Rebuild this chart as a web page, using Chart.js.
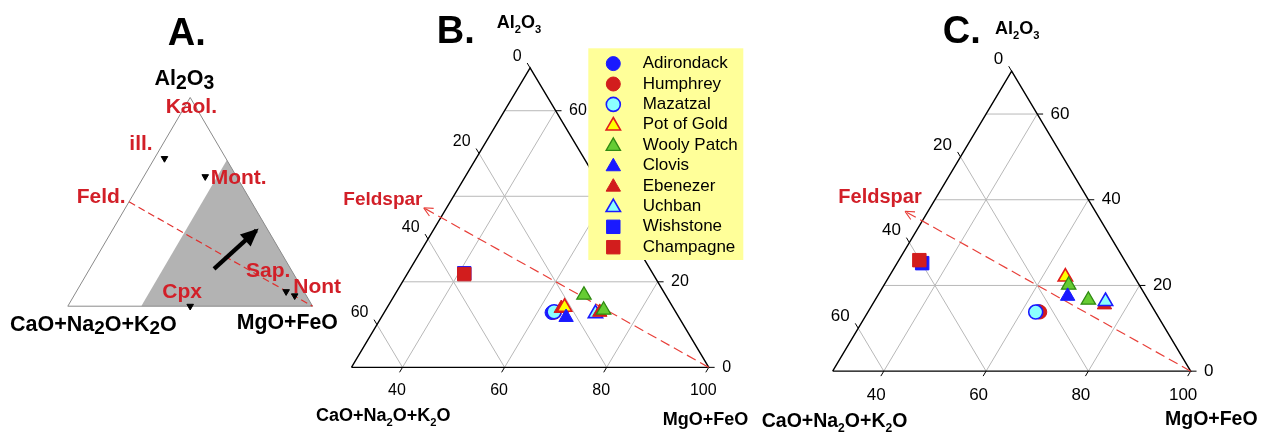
<!DOCTYPE html>
<html><head><meta charset="utf-8">
<script src="https://cdn.jsdelivr.net/npm/chart.js@4.4.1/dist/chart.umd.min.js"></script>
<style>
html,body{margin:0;padding:0;background:#fff;width:1269px;height:434px;overflow:hidden;}
canvas{position:absolute;left:0;top:0;}
</style></head><body>
<canvas id="cA" width="1269" height="434"></canvas>
<canvas id="cB" width="1269" height="434"></canvas>
<canvas id="cC" width="1269" height="434"></canvas>
<script>
// ================= DATA =================
const seriesNames = ['Adirondack','Humphrey','Mazatzal','Pot of Gold','Wooly Patch','Clovis','Ebenezer','Uchban','Wishstone','Champagne'];
// pairs: [Al2O3, MgO+FeO]  (CaO+Na2O+K2O = 100 - both)
// Panel B
const adirondackB = [[12.8, 62.9]];
const humphreyB   = [[12.9, 63.3]];
const mazatzalB   = [[13.0, 63.2]];
const potOfGoldB  = [[14.1, 64.7]];
const woolyPatchB = [[16.9, 67.1], [13.4, 72.7]];
const clovisB     = [[11.7, 66.2]];
const ebenezerB   = [[13.8, 64.2], [12.9, 72.2]];
const uchbanB     = [[12.6, 71.5]];
const wishstoneB  = [[22.0, 41.1]];
const champagneB  = [[21.8, 41.2]];
// Panel C
const adirondackC = [[13.9, 63.3]];
const humphreyC   = [[13.8, 63.6]];
const mazatzalC   = [[13.8, 62.8]];
const potOfGoldC  = [[22.0, 64.5]];
const woolyPatchC = [[20.1, 66.1], [16.6, 71.7]];
const clovisC     = [[17.5, 67.2]];
const ebenezerC   = [[15.5, 75.4]];
const uchbanC     = [[16.3, 75.2]];
const wishstoneC  = [[25.2, 34.9]];
const champagneC  = [[25.9, 34.0]];
// Panel A minerals (markers)
const mineralAl2O3  = [70.8, 62.1, 0.0, 7.0, 5.0];
const mineralMgOFeO = [4.1, 25.1, 50.0, 85.7, 90.2];
// Panel A arrow (start, end)
const arrowAl2O3  = [17.9, 36.3];
const arrowMgOFeO = [50.8, 58.9];
// Feldspar composition and arrow tip in B/C
const feldspar = [50, 0];
const feldsparTip = [37.3, 25.5];
// field shown in B/C (MgO+FeO >= 30)
const fieldMinMgOFeO = 30;
// tick labels
const al2o3Ticks  = [0, 20, 40, 60];
const mgofeoTicks = [40, 60, 80, 100];
const cnkTicks    = [0, 20, 40, 60];

// ================= HELPERS =================
const SQ = Math.sqrt(3) / 2;
const tern = (al, mf) => ({ x: mf + al / 2, y: al * SQ });
const FAM = '"Liberation Sans", Arial, sans-serif';
const BLUE = '#1a1aff', RED = '#d21d1d', CYAN = '#8cffff', YEL = '#ffff00', GRN = '#66cc33', DGRN = '#2f8a12';
const TXTRED = '#d21f28';

const seriesStyle = [
  {shape:'circle', fill:BLUE, stroke:BLUE, lw:1},
  {shape:'circle', fill:RED, stroke:RED, lw:1},
  {shape:'circle', fill:CYAN, stroke:BLUE, lw:1.6},
  {shape:'triangle', fill:YEL, stroke:'#e01b1b', lw:1.6},
  {shape:'triangle', fill:GRN, stroke:DGRN, lw:1.3},
  {shape:'triangle', fill:BLUE, stroke:BLUE, lw:1},
  {shape:'triangle', fill:RED, stroke:RED, lw:1},
  {shape:'triangle', fill:CYAN, stroke:BLUE, lw:1.6},
  {shape:'rect', fill:BLUE, stroke:BLUE, lw:1},
  {shape:'rect', fill:RED, stroke:RED, lw:1}
];
const markerR = {circle: 7, triangle: 8.3, rect: 9.5};

function scalesFor(p) {
  const xmin = p.x0 - p.px0 / p.k;
  return {
    x: {type:'linear', display:false, min:xmin, max:xmin + 1269 / p.k},
    y: {type:'linear', display:false, min:-(434 - p.base) / p.k, max:p.base / p.k}
  };
}
function seg(points, color, width, order, dash, extra) {
  return Object.assign({data:points, showLine:true, borderColor:color, borderWidth:width,
    pointRadius:0, pointHoverRadius:0, fill:false, order:order, borderDash:dash || [], tension:0}, extra || {});
}
function txt(ctx, s, x, y, fs, opt) {
  opt = opt || {};
  ctx.font = (opt.bold ? 'bold ' : '') + fs + 'px ' + FAM;
  ctx.fillStyle = opt.color || '#000';
  ctx.textAlign = opt.align || 'left';
  ctx.textBaseline = opt.baseline || 'alphabetic';
  ctx.fillText(s, x, y);
}
function rich(ctx, parts, x, y, fs, opt) {
  opt = opt || {};
  const w = opt.bold === false ? '' : 'bold ';
  const sc = opt.subScale || 0.62, sh = opt.subShift || 0.28;
  let total = 0;
  const ws = parts.map(([t, s]) => { ctx.font = w + (s ? fs * sc : fs) + 'px ' + FAM; const m = ctx.measureText(t).width; total += m; return m; });
  let cx = opt.align === 'right' ? x - total : opt.align === 'center' ? x - total / 2 : x;
  ctx.fillStyle = opt.color || '#000'; ctx.textAlign = 'left'; ctx.textBaseline = 'alphabetic';
  parts.forEach(([t, s], i) => { ctx.font = w + (s ? fs * sc : fs) + 'px ' + FAM; ctx.fillText(t, cx, s ? y + fs * sh : y); cx += ws[i]; });
}
const AL2O3 = [['Al',0],['2',1],['O',0],['3',1]];
const CNK = [['CaO+Na',0],['2',1],['O+K',0],['2',1],['O',0]];

function drawMarker(ctx, st, x, y) {
  const r = markerR[st.shape];
  ctx.beginPath();
  if (st.shape === 'circle') ctx.arc(x, y, r, 0, Math.PI * 2);
  else if (st.shape === 'rect') { const s = r * Math.SQRT1_2; ctx.rect(x - s, y - s, 2 * s, 2 * s); }
  else { ctx.moveTo(x, y - r); ctx.lineTo(x + r * SQ, y + r / 2); ctx.lineTo(x - r * SQ, y + r / 2); ctx.closePath(); }
  ctx.fillStyle = st.fill; ctx.fill();
  ctx.lineWidth = st.lw; ctx.strokeStyle = st.stroke; ctx.stroke();
}

const baseOpts = (p) => ({
  responsive:false, animation:false, events:[],
  layout:{padding:0},
  plugins:{legend:{display:false}, tooltip:{enabled:false}},
  scales: scalesFor(p)
});

// ================= PANEL A =================
const pA = {k:2.467, px0:63.3, x0:0, base:308.3};
const dsA = [
  seg([tern(0, fieldMinMgOFeO), tern(100 - fieldMinMgOFeO, fieldMinMgOFeO), tern(0, 100)], 'rgba(0,0,0,0)', 0, 20,
      null, {fill:'origin', backgroundColor:'#b3b3b3'}),
  seg([tern(0,0), tern(0,100), tern(100,0), tern(0,0)], '#8a8a8a', 1, 19),
  seg([tern(feldspar[0], feldspar[1]), tern(0,100)], '#e0312f', 1.2, 18, [7,4]),
  seg([tern(arrowAl2O3[0], arrowMgOFeO[0]), tern(arrowAl2O3[1], arrowMgOFeO[1])], '#000', 4.2, 17),
  {data: mineralAl2O3.map((a, i) => tern(a, mineralMgOFeO[i])), showLine:false, pointStyle:'triangle',
   pointRotation:180, pointRadius:3.8, pointBackgroundColor:'#000', pointBorderColor:'#000', pointBorderWidth:1, order:16}
];
const plugA = {
  id:'labelsA',
  afterDatasetsDraw(chart) {
    const ctx = chart.ctx, xs = chart.scales.x, ys = chart.scales.y;
    const P = (al, mf) => { const t = tern(al, mf); return [xs.getPixelForValue(t.x), ys.getPixelForValue(t.y)]; };
    ctx.save();
    const s = P(arrowAl2O3[0], arrowMgOFeO[0]), e = P(arrowAl2O3[1], arrowMgOFeO[1]);
    const ang = Math.atan2(e[1] - s[1], e[0] - s[0]);
    const hl = 15, hw = 8;
    ctx.beginPath();
    ctx.moveTo(e[0] + 3 * Math.cos(ang), e[1] + 3 * Math.sin(ang));
    ctx.lineTo(e[0] - hl * Math.cos(ang) - hw * Math.sin(ang), e[1] - hl * Math.sin(ang) + hw * Math.cos(ang));
    ctx.lineTo(e[0] - hl * Math.cos(ang) + hw * Math.sin(ang), e[1] - hl * Math.sin(ang) - hw * Math.cos(ang));
    ctx.closePath(); ctx.fillStyle = '#000'; ctx.fill();
    txt(ctx, 'A.', 186.7, 45, 38, {bold:true, align:'center'});
    rich(ctx, AL2O3, 184.3, 85, 21.5, {align:'center', subScale:0.9, subShift:0.17});
    const red = {bold:true, color:TXTRED};
    txt(ctx, 'Kaol.', 165.7, 112.7, 21, red);
    txt(ctx, 'ill.', 129.3, 150, 21, red);
    txt(ctx, 'Mont.', 210.7, 184.3, 21, red);
    txt(ctx, 'Feld.', 76.7, 203.3, 21, red);
    txt(ctx, 'Cpx', 162.3, 297.7, 21, red);
    txt(ctx, 'Sap.', 246, 277.3, 21, red);
    txt(ctx, 'Nont', 293.3, 292.7, 21, red);
    rich(ctx, CNK, 10, 331, 21.5, {subScale:0.88, subShift:0.16});
    txt(ctx, 'MgO+FeO', 236.7, 329.3, 21.3, {bold:true});
    ctx.restore();
  }
};
new Chart(document.getElementById('cA'), {type:'line', data:{datasets:dsA}, options:baseOpts(pA), plugins:[plugA]});

// ================= PANELS B & C =================
function ternaryDatasets(p, seriesData, drawOrder) {
  const ds = [];
  const L = 6 / p.k;
  const m0 = fieldMinMgOFeO;
  al2o3Ticks.filter(a => a > 0).forEach(a => ds.push(seg([tern(a, m0), tern(a, 100 - a)], '#b8b8b8', 1, 100)));
  mgofeoTicks.filter(m => m < 100).forEach(m => ds.push(seg([tern(0, m), tern(100 - m, m)], '#b8b8b8', 1, 100)));
  cnkTicks.filter(c => c > 0).forEach(c => ds.push(seg([tern(100 - m0 - c, m0), tern(0, 100 - c)], '#b8b8b8', 1, 100)));
  ds.push(seg([tern(0, m0), tern(0, 100), tern(100 - m0, m0), tern(0, m0)], '#000', 1.4, 95));
  cnkTicks.forEach(c => { const q = tern(100 - m0 - c, m0); ds.push(seg([q, {x:q.x - 0.5 * L, y:q.y + SQ * L}], '#000', 1, 95)); });
  al2o3Ticks.forEach(a => { const q = tern(a, 100 - a); ds.push(seg([q, {x:q.x + L, y:q.y}], '#000', 1, 95)); });
  mgofeoTicks.forEach(m => { const q = tern(0, m); ds.push(seg([q, {x:q.x - 0.5 * L, y:-SQ * L}], '#000', 1, 95)); });
  ds.push(seg([tern(0, 100), tern(feldsparTip[0], feldsparTip[1])], '#e8403a', 1.2, 90, [10, 5]));
  seriesNames.forEach((name, i) => {
    const st = seriesStyle[i];
    ds.push({label:name, data:seriesData[i].map(([a, m]) => tern(a, m)), showLine:false,
      pointStyle:st.shape, pointRadius:markerR[st.shape], pointHoverRadius:markerR[st.shape],
      pointBackgroundColor:st.fill, pointBorderColor:st.stroke, pointBorderWidth:st.lw,
      order:60 - drawOrder.indexOf(name)});
  });
  return ds;
}
function ternaryPlugin(id, L) {
  return {
    id:'lab' + id,
    afterDatasetsDraw(chart) {
      const ctx = chart.ctx, xs = chart.scales.x, ys = chart.scales.y;
      const P = (al, mf) => { const t = tern(al, mf); return [xs.getPixelForValue(t.x), ys.getPixelForValue(t.y)]; };
      ctx.save();
      const c0 = P(0, 100), tip = P(feldsparTip[0], feldsparTip[1]);
      const ang = Math.atan2(tip[1] - c0[1], tip[0] - c0[0]);
      ctx.strokeStyle = '#e8403a'; ctx.lineWidth = 1.1; ctx.beginPath();
      [0.45, -0.45].forEach(d => { ctx.moveTo(tip[0], tip[1]); ctx.lineTo(tip[0] - 10 * Math.cos(ang + d), tip[1] - 10 * Math.sin(ang + d)); });
      ctx.stroke();
      txt(ctx, L.title, L.titleX, 43.3, 38, {bold:true, align:'center'});
      rich(ctx, AL2O3, L.alX, L.alY, 18);
      cnkTicks.forEach(c => { const q = P(100 - fieldMinMgOFeO - c, fieldMinMgOFeO); txt(ctx, String(c), q[0] - 8.5, q[1] - 11.8, L.tfs, {align:'right', baseline:'middle'}); });
      al2o3Ticks.forEach(a => { const q = P(a, 100 - a); txt(ctx, String(a), q[0] + 13.4, q[1], L.tfs, {align:'left', baseline:'middle'}); });
      mgofeoTicks.forEach(m => { const q = P(0, m); txt(ctx, String(m), q[0] - L.bdx, q[1] + L.bdy, L.tfs, {align:'center'}); });
      txt(ctx, 'Feldspar', L.fX, L.fY, L.ffs, {bold:true, color:TXTRED});
      rich(ctx, CNK, L.cnkX, L.cnkY, L.afs);
      txt(ctx, 'MgO+FeO', L.mfX, L.mfY, L.afs, {bold:true, align:L.mfAlign});
      if (L.legend) {
        ctx.fillStyle = '#ffff99';
        ctx.fillRect(588.3, 48.3, 155, 211.7);
        seriesNames.forEach((name, i) => {
          const y = 63.6 + i * 20.4;
          drawMarker(ctx, seriesStyle[i], 613.3, y + (seriesStyle[i].shape === 'triangle' ? 1 : 0));
          txt(ctx, name, 642.7, y, 17, {baseline:'middle'});
        });
      }
      ctx.restore();
    }
  };
}

const pB = {k:5.19, px0:346.7, x0:30, base:375};
const dataB = [adirondackB, humphreyB, mazatzalB, potOfGoldB, woolyPatchB, clovisB, ebenezerB, uchbanB, wishstoneB, champagneB];
const orderB = ['Adirondack','Humphrey','Mazatzal','Uchban','Ebenezer','Pot of Gold','Clovis','Wooly Patch','Wishstone','Champagne'];
new Chart(document.getElementById('cB'), {type:'line', data:{datasets:ternaryDatasets(pB, dataB, orderB)}, options:baseOpts(pB),
  plugins:[ternaryPlugin('B', {title:'B.', titleX:455.8, alX:496.7, alY:28.3, tfs:16, bdx:5.5, bdy:27.7,
    fX:343.3, fY:205, ffs:19, cnkX:316, cnkY:420.7, afs:18, mfX:748.3, mfY:425, mfAlign:'right', legend:true})]});

const pC = {k:5.2, px0:836, x0:30, base:379};
const dataC = [adirondackC, humphreyC, mazatzalC, potOfGoldC, woolyPatchC, clovisC, ebenezerC, uchbanC, wishstoneC, champagneC];
new Chart(document.getElementById('cC'), {type:'line', data:{datasets:ternaryDatasets(pC, dataC, seriesNames)}, options:baseOpts(pC),
  plugins:[ternaryPlugin('C', {title:'C.', titleX:961.7, alX:995, alY:34.3, tfs:17, bdx:7.5, bdy:29.3,
    fX:838.3, fY:203.3, ffs:20, cnkX:761.7, cnkY:426.7, afs:19.5, mfX:1165, mfY:425, mfAlign:'left', legend:false})]});
</script>
</body></html>
